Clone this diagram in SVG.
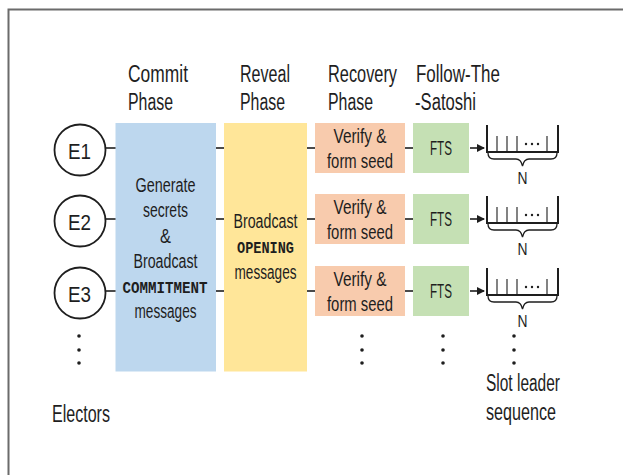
<svg xmlns="http://www.w3.org/2000/svg" width="623" height="475" viewBox="0 0 623 475">
<defs>
<style>
.t{font-family:"Liberation Sans",Arial,sans-serif;fill:#1e1e1e}
.h{font-size:23px}
.b{font-size:19.5px}
.m{font-family:"Liberation Mono","Courier New",monospace;font-weight:bold;font-size:17px;fill:#1e1e1e}
.c{text-anchor:middle}
.ln{stroke:#1e1e1e;stroke-width:1.6;fill:none}
.q{stroke:#1e1e1e;stroke-width:2;fill:none}
.tk{stroke:#1e1e1e;stroke-width:1.1;fill:none}
.br{stroke:#1e1e1e;stroke-width:1.3;fill:none}
.el{fill:#fff;stroke:#1e1e1e;stroke-width:1.8}
.dot{fill:#1e1e1e}
</style>
<marker id="ah" viewBox="0 0 8 8" refX="7" refY="4" markerWidth="8" markerHeight="8" markerUnits="userSpaceOnUse" orient="auto">
<path d="M0,0 L8,4 L0,8 Z" fill="#1e1e1e"/>
</marker>
<g id="queue">
<path class="q" d="M487,-23 V4 H558 V-23"/>
<path class="tk" d="M497,-12 V4 M507,-12 V4 M517,-12 V4 M547,-12 V4"/>
<circle class="dot" cx="526" cy="-4" r="1.2"/>
<circle class="dot" cx="532" cy="-4" r="1.2"/>
<circle class="dot" cx="538" cy="-4" r="1.2"/>
<path class="br" d="M488,5 Q488,11 494,11 L516,11 Q521,11 522.5,18 Q524,11 529,11 L551,11 Q557,11 557,5"/>
<text class="t c" x="522.5" y="36" font-size="16" textLength="10" lengthAdjust="spacingAndGlyphs">N</text>
</g>
</defs>

<rect width="623" height="475" fill="#fff"/>
<path d="M8.5,475 V9.5 H623" fill="none" stroke="#6b6b6b" stroke-width="2"/>

<g id="headers">
<text class="t h" x="128" y="82" textLength="60" lengthAdjust="spacingAndGlyphs">Commit</text>
<text class="t h" x="128" y="110" textLength="45" lengthAdjust="spacingAndGlyphs">Phase</text>
<text class="t h" x="240" y="82" textLength="50" lengthAdjust="spacingAndGlyphs">Reveal</text>
<text class="t h" x="240" y="110" textLength="45" lengthAdjust="spacingAndGlyphs">Phase</text>
<text class="t h" x="328" y="82" textLength="69" lengthAdjust="spacingAndGlyphs">Recovery</text>
<text class="t h" x="328" y="110" textLength="45" lengthAdjust="spacingAndGlyphs">Phase</text>
<text class="t h" x="416" y="82" textLength="84" lengthAdjust="spacingAndGlyphs">Follow-The</text>
<text class="t h" x="415" y="110" textLength="61" lengthAdjust="spacingAndGlyphs">-Satoshi</text>
</g>

<g id="connectors">
<line class="ln" x1="105" y1="148" x2="116" y2="148"/>
<line class="ln" x1="105" y1="219" x2="116" y2="219"/>
<line class="ln" x1="105" y1="291" x2="116" y2="291"/>
<line class="ln" x1="216" y1="148" x2="224" y2="148"/>
<line class="ln" x1="216" y1="219" x2="224" y2="219"/>
<line class="ln" x1="216" y1="291" x2="224" y2="291"/>
<line class="ln" x1="307" y1="148" x2="315" y2="148"/>
<line class="ln" x1="307" y1="219" x2="315" y2="219"/>
<line class="ln" x1="307" y1="291" x2="315" y2="291"/>
<line class="ln" x1="405" y1="148" x2="413" y2="148"/>
<line class="ln" x1="405" y1="219" x2="413" y2="219"/>
<line class="ln" x1="405" y1="291" x2="413" y2="291"/>
<line class="ln" x1="470" y1="148" x2="484" y2="148" marker-end="url(#ah)"/>
<line class="ln" x1="470" y1="219" x2="484" y2="219" marker-end="url(#ah)"/>
<line class="ln" x1="470" y1="291" x2="484" y2="291" marker-end="url(#ah)"/>
</g>

<g id="E1"><circle class="el" cx="80" cy="150" r="25.5"/><text class="t c" x="79.5" y="158.5" font-size="22" textLength="23" lengthAdjust="spacingAndGlyphs">E1</text></g>
<g id="E2"><circle class="el" cx="80" cy="221" r="25.5"/><text class="t c" x="79.5" y="229.5" font-size="22" textLength="23" lengthAdjust="spacingAndGlyphs">E2</text></g>
<g id="E3"><circle class="el" cx="80" cy="293" r="25.5"/><text class="t c" x="79.5" y="301.5" font-size="22" textLength="23" lengthAdjust="spacingAndGlyphs">E3</text></g>

<g id="commit">
<rect x="115.5" y="123" width="100.5" height="248.5" fill="#bdd7ee"/>
<text class="t b c" x="165.5" y="192" textLength="60" lengthAdjust="spacingAndGlyphs">Generate</text>
<text class="t b c" x="165.5" y="217" textLength="45" lengthAdjust="spacingAndGlyphs">secrets</text>
<text class="t b c" x="165.5" y="243" textLength="11" lengthAdjust="spacingAndGlyphs">&amp;</text>
<text class="t b c" x="165.5" y="268" textLength="64" lengthAdjust="spacingAndGlyphs">Broadcast</text>
<text class="m c" x="165" y="293" textLength="85" lengthAdjust="spacingAndGlyphs">COMMITMENT</text>
<text class="t b c" x="165.5" y="318" textLength="62" lengthAdjust="spacingAndGlyphs">messages</text>
</g>

<g id="reveal">
<rect x="224" y="123" width="83" height="248.5" fill="#ffe699"/>
<text class="t b c" x="265.5" y="228" textLength="64" lengthAdjust="spacingAndGlyphs">Broadcast</text>
<text class="m c" x="265.5" y="253" textLength="57" lengthAdjust="spacingAndGlyphs">OPENING</text>
<text class="t b c" x="265.5" y="279" textLength="62" lengthAdjust="spacingAndGlyphs">messages</text>
</g>

<g id="recovery1"><rect x="315" y="123" width="90" height="50" fill="#f8cbad"/>
<text class="t b c" x="360" y="143" textLength="53" lengthAdjust="spacingAndGlyphs">Verify &amp;</text>
<text class="t b c" x="360" y="168" textLength="66" lengthAdjust="spacingAndGlyphs">form seed</text></g>
<g id="recovery2"><rect x="315" y="194" width="90" height="50" fill="#f8cbad"/>
<text class="t b c" x="360" y="214" textLength="53" lengthAdjust="spacingAndGlyphs">Verify &amp;</text>
<text class="t b c" x="360" y="239" textLength="66" lengthAdjust="spacingAndGlyphs">form seed</text></g>
<g id="recovery3"><rect x="315" y="266" width="90" height="50" fill="#f8cbad"/>
<text class="t b c" x="360" y="286" textLength="53" lengthAdjust="spacingAndGlyphs">Verify &amp;</text>
<text class="t b c" x="360" y="311" textLength="66" lengthAdjust="spacingAndGlyphs">form seed</text></g>

<g id="fts1"><rect x="413" y="123" width="56" height="50" fill="#c5e0b4"/>
<text class="t b c" x="441" y="155" textLength="22" lengthAdjust="spacingAndGlyphs">FTS</text></g>
<g id="fts2"><rect x="413" y="194" width="56" height="50" fill="#c5e0b4"/>
<text class="t b c" x="441" y="226" textLength="22" lengthAdjust="spacingAndGlyphs">FTS</text></g>
<g id="fts3"><rect x="413" y="266" width="56" height="50" fill="#c5e0b4"/>
<text class="t b c" x="441" y="298" textLength="22" lengthAdjust="spacingAndGlyphs">FTS</text></g>

<g id="seq1"><use href="#queue" transform="translate(0,148)"/></g>
<g id="seq2"><use href="#queue" transform="translate(0,219)"/></g>
<g id="seq3"><use href="#queue" transform="translate(0,291)"/></g>

<g id="ellipses">
<circle class="dot" cx="79" cy="336" r="1.8"/><circle class="dot" cx="79" cy="350" r="1.8"/><circle class="dot" cx="79" cy="363" r="1.8"/>
<circle class="dot" cx="362" cy="336" r="1.8"/><circle class="dot" cx="362" cy="350" r="1.8"/><circle class="dot" cx="362" cy="363" r="1.8"/>
<circle class="dot" cx="443" cy="336" r="1.8"/><circle class="dot" cx="443" cy="350" r="1.8"/><circle class="dot" cx="443" cy="363" r="1.8"/>
<circle class="dot" cx="514" cy="336" r="1.8"/><circle class="dot" cx="514" cy="350" r="1.8"/><circle class="dot" cx="514" cy="363" r="1.8"/>
</g>

<g id="labels">
<text class="t h" x="52" y="422" textLength="58" lengthAdjust="spacingAndGlyphs">Electors</text>
<text class="t h" x="486" y="391" textLength="74" lengthAdjust="spacingAndGlyphs">Slot leader</text>
<text class="t h" x="486" y="420" textLength="70" lengthAdjust="spacingAndGlyphs">sequence</text>
</g>
</svg>
